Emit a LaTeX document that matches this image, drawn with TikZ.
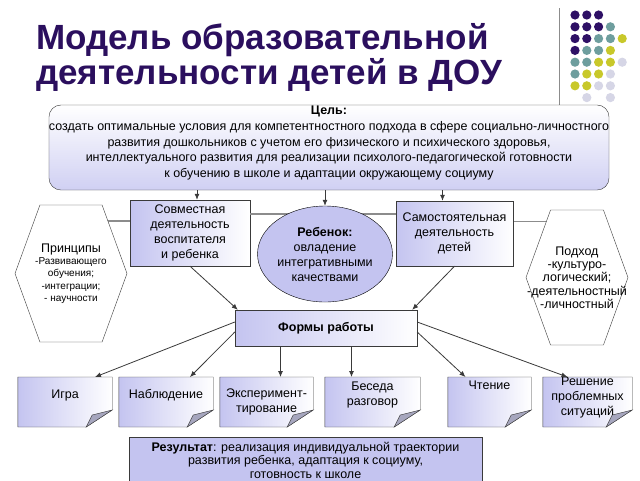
\documentclass[tikz,border=0pt]{standalone}
\usepackage{fontspec}
\setmainfont{Liberation Sans}
\usetikzlibrary{shapes,arrows.meta,backgrounds,shadows}

\definecolor{titlecol}{HTML}{2B0F5E}
\definecolor{lav}{HTML}{C4C4F0}
\definecolor{edge}{HTML}{3A3A3A}
\definecolor{linkgray}{HTML}{8C8C8C}
\definecolor{foldgray}{HTML}{A6A6BE}
\definecolor{dotP}{HTML}{2E1065}
\definecolor{dotT}{HTML}{6E9E9E}
\definecolor{dotY}{HTML}{C8C82A}
\definecolor{dotL}{HTML}{D6D6E6}

\begin{document}
\begin{tikzpicture}[x=1pt, y=-1pt,
    every node/.style={font=\fontsize{12.5}{15}\selectfont, align=center},
    goalbox/.style={rectangle, rounded corners=12pt, draw=edge, top color=white, bottom color=lav!80, minimum width=560pt, minimum height=85pt, inner sep=0pt},
    box/.style={rectangle, draw=edge, left color=lav, right color=white, inner sep=2pt, drop shadow={shadow xshift=1.2pt, shadow yshift=-1.2pt, opacity=.5}},
    kid/.style={ellipse, draw=black, fill=lav, minimum width=122pt, minimum height=96pt, inner sep=0pt},
    hexa/.style={signal, signal to=east and west, signal pointer angle=140, draw=edge, fill=white, inner xsep=-30pt, inner ysep=0pt},
    note/.style={rectangle, anchor=north, minimum height=36pt, inner xsep=1pt},
    arrow/.style={-{Latex[length=6pt,width=5pt]}, draw=edge, line width=0.8pt},
    link/.style={draw=linkgray, line width=1.8pt}
]

\useasboundingbox (0,0) rectangle (640,480);

% Title
\node[anchor=north west, inner sep=0pt, align=left, text=titlecol, font=\fontsize{35}{35}\selectfont\bfseries] (title) at (36,23) {Модель образовательной\\деятельности детей в ДОУ};

% Dots in the corner
\draw[linkgray, line width=0.8pt] (559,8) -- (559,105);
\foreach \row [count=\r from 0] in {{dotP,dotP,dotP},{dotP,dotP,dotP,dotT},{dotP,dotP,dotT,dotT,dotY},{dotP,dotT,dotT,dotY},{dotT,dotT,dotY,dotY,dotL},{dotT,dotY,dotY,dotL},{dotY,dotY,dotL,dotL},{none,dotL,none,dotL}}
    \foreach \k [count=\c from 0] in \row
        \path[fill=\k] (575+11.8*\c, 15+11.8*\r) circle (4.6pt);

% Goal
\node[goalbox, font=\fontsize{12.5}{15.7}\selectfont] (goal) at (329,147.5) {\textbf{Цель:}\\создать оптимальные условия для компетентностного подхода в сфере социально-личностного\\развития дошкольников с учетом его физического и психического здоровья,\\интеллектуального развития для реализации  психолого-педагогической готовности\\к обучению в школе и адаптации окружающему социуму\\[-9pt]\strut};

% Middle row
\node[box, minimum width=120pt, minimum height=66pt] (joint) at (190,233) {Совместная\\деятельность\\воспитателя\\и ребенка};
\node[box, minimum width=117pt, minimum height=65pt] (self) at (454.5,233.5) {Самостоятельная\\деятельность\\детей};
\draw[link] ([yshift=19pt]joint.east) -- ([yshift=19pt]joint.east -| self.west);
\node[kid] (child) at (325,254) {\textbf{Ребенок:}\\овладение\\интегративными\\качествами};

% Hexagons
\node[hexa, minimum width=112pt, minimum height=137pt, font=\fontsize{10}{12.3}\selectfont] (principles) at (71,273.5) {{\fontsize{12.5}{12.5}\selectfont Принципы}\\-Развивающего\\обучения;\\-интеграции;\\- научности};
\node[hexa, minimum width=102pt, minimum height=135pt, font=\fontsize{12.5}{13.3}\selectfont] (approach) at (577,277.5) {Подход\\-культуро-\\логический;\\-деятельностный\\-личностный};

% Forms of work
\node[box, minimum width=182pt, minimum height=36pt, font=\fontsize{12.5}{15}\selectfont\bfseries] (forms) at (326,328) {Формы работы};

% Notes
\node[note, minimum width=94pt] (game) at (65,377) {Игра};
\node[note, minimum width=94pt] (observe) at (166,377) {Наблюдение};
\node[note, minimum width=93pt, minimum height=50pt] (experiment) at (266.5,377) {Эксперимент-\\тирование};
\node[note, minimum width=95pt] (talk) at (372.5,377) {Беседа\\разговор};
\node[note, minimum width=83pt, minimum height=0pt] (reading) at (489.5,377) {Чтение};
\node[note, minimum width=89pt, minimum height=0pt, inner ysep=0pt] (problems) at (587.5,377) {Решение\\проблемных\\ситуаций};

% Result
\node[rectangle, draw=edge, fill=lav, minimum width=353pt, minimum height=46pt, anchor=north, font=\fontsize{12.5}{13.3}\selectfont] (result) at (305.5,437) {\textbf{Результат}: реализация индивидуальной траектории\\развития ребенка, адаптация к социуму,\\готовность к школе};

% Arrows
\draw[arrow] ([xshift=7pt]joint.north |- goal.south) -- ([xshift=7pt]joint.north);
\draw[arrow] (child.north |- goal.south) -- (child.north);
\draw[arrow] ([xshift=-12pt]self.north |- goal.south) -- ([xshift=-12pt]self.north);
\draw[arrow] (joint.south) -- ([xshift=3pt]forms.north west);
\draw[arrow] (self.south) -- ([xshift=-5pt]forms.north east);
\draw[arrow] ([yshift=6pt]forms.west) -- ([xshift=30pt]game.north);
\draw[arrow] ([yshift=-4pt]forms.west) -- ([xshift=24pt]observe.north);
\draw[arrow] ([xshift=14pt]experiment.north |- forms.south) -- ([xshift=14pt]experiment.north);
\draw[arrow] ([xshift=-21pt]talk.north |- forms.south) -- ([xshift=-21pt]talk.north);
\draw[arrow] ([yshift=-4pt]forms.east) -- ([xshift=-24pt]reading.north);
\draw[arrow] ([yshift=6pt]forms.east) -- ([xshift=-20pt]problems.north);

% Behind everything: hexagon links and folded sheets
\begin{scope}[on background layer]
    \fill[white] (0,0) rectangle (640,480);
    \draw[link] ([yshift=12pt]joint.west) -- ([yshift=12pt]joint.west -| principles.center);
    \draw[link] ([yshift=12pt]self.east) -- ([yshift=12pt]self.east -| approach.center);
    \foreach \n in {game,observe,experiment,talk,reading,problems}{
        \shadedraw[left color=lav, right color=white, draw=edge] (\n.north west) -- (\n.north east) -- ([yshift=-33pt]\n.north east) -- ([xshift=-26pt,yshift=-50pt]\n.north east) -- ([yshift=-50pt]\n.north west) -- cycle;
        \filldraw[fill=foldgray, draw=edge] ([xshift=-26pt,yshift=-50pt]\n.north east) -- ([xshift=-20pt,yshift=-38pt]\n.north east) -- ([yshift=-33pt]\n.north east) -- cycle;
    }
\end{scope}

\end{tikzpicture}
\end{document}
